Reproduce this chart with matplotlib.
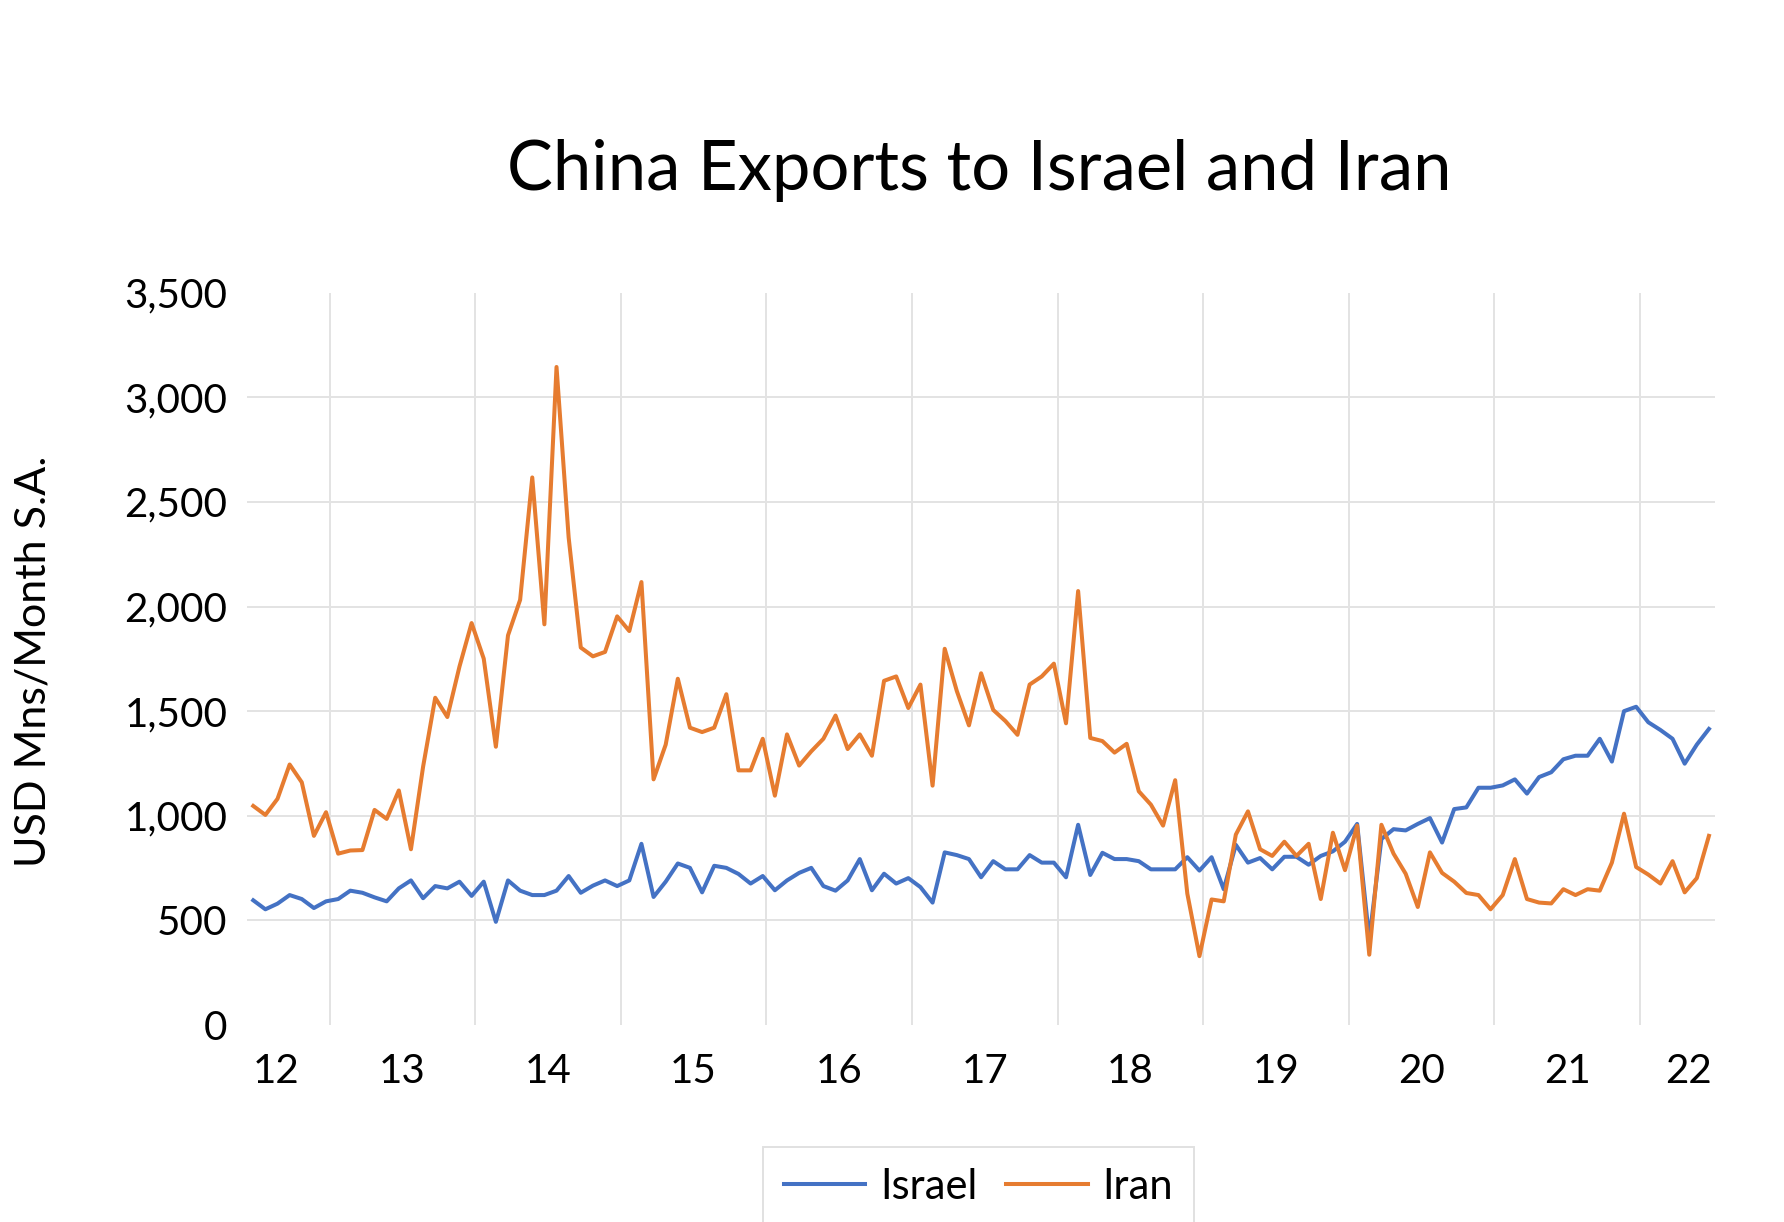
import matplotlib
matplotlib.use("Agg")
import matplotlib.pyplot as plt
import numpy as np
from matplotlib.lines import Line2D

FONT = ["Lato", "DejaVu Sans"]
plt.rcParams["font.family"] = FONT

# ---- data (monthly, Jul 2012 .. Jul 2022), USD mns / month s.a. ----
israel = [596, 553, 580, 621, 602, 559, 591, 602, 642, 632, 610, 591,
          653, 691, 606, 664, 653, 685, 617, 685, 493, 691, 642, 621,
          621, 642, 712, 632, 666, 691, 664, 691, 866, 612, 685, 772,
          751, 634, 761, 751, 722, 676, 712, 644, 691, 727, 751, 664,
          642, 691, 793, 644, 723, 676, 702, 659, 585, 825, 812, 793,
          706, 783, 744, 744, 812, 776, 776, 706, 957, 717, 823, 793,
          793, 783, 744, 744, 744, 802, 738, 802, 649, 861, 776, 798,
          744, 804, 804, 766, 808, 830, 876, 961, 410, 889, 936, 930,
          961, 989, 872, 1032, 1040, 1134, 1134, 1145, 1174, 1106, 1185, 1208,
          1270, 1287, 1287, 1368, 1259, 1500, 1521, 1447, 1410, 1368, 1249, 1340,
          1415]
iran = [1047, 1004, 1081, 1245, 1160, 904, 1017, 819, 834, 836, 1028, 985,
        1121, 840, 1234, 1564, 1472, 1713, 1921, 1751, 1330, 1862, 2032, 2617,
        1915, 3145, 2330, 1804, 1762, 1783, 1953, 1883, 2117, 1174, 1340, 1655,
        1421, 1400, 1421, 1581, 1217, 1217, 1368, 1096, 1389, 1240, 1308, 1368,
        1479, 1319, 1389, 1287, 1645, 1666, 1515, 1627, 1144, 1798, 1596, 1432,
        1681, 1506, 1453, 1387, 1627, 1666, 1727, 1442, 2074, 1372, 1357, 1302,
        1344, 1117, 1053, 953, 1170, 628, 329, 600, 591, 910, 1021, 840,
        808, 876, 808, 866, 602, 919, 740, 953, 336, 957, 819, 723,
        564, 825, 727, 685, 631, 621, 553, 621, 793, 602, 585, 581,
        649, 621, 649, 642, 776, 1010, 755, 719, 676, 783, 634, 702,
        904]
year_labels = ["12", "13", "14", "15", "16", "17", "18", "19", "20", "21", "22"]
y_ticks = [0, 500, 1000, 1500, 2000, 2500, 3000, 3500]

# ---- layout ----
W, H = 1784, 1222
fig = plt.figure(figsize=(W / 100, H / 100), dpi=100)
renderer = fig.canvas.get_renderer()


def fit(text, target_px, **kw):
    t = fig.text(0, 0, text, fontsize=20, **kw)
    w = t.get_window_extent(renderer).width
    t.remove()
    return 20 * target_px / w


left, right, top, bottom = 246.7, 1715, 292.7, 1025
ax = fig.add_axes([left / W, 1 - bottom / H, (right - left) / W, (bottom - top) / H])

BLUE = "#4472C4"
ORANGE = "#E67C30"
GRID = "#E3E3E3"

x = np.arange(len(israel))
ax.plot(x, israel, color=BLUE, lw=2.9, label="Israel")
ax.plot(x, iran, color=ORANGE, lw=2.9, label="Iran")

ax.set_xlim(-0.54, 120.5)
ax.set_ylim(0, 3500)

# year boundaries (gridlines) and year labels
grid_offset = 6.3
year_bounds = [grid_offset + 12 * k for k in range(10)]
label_pos = [1.85] + [grid_offset + 6 + 12 * k for k in range(9)] + [118.3]

tick_fs = fit("3,000", 102.7)

ax.set_xticks(year_bounds)
ax.set_xticklabels([])
ax.set_xticks(label_pos, minor=True)
ax.set_xticklabels(year_labels, minor=True, fontsize=tick_fs)
ax.tick_params(axis="x", which="both", length=0)
ax.tick_params(axis="x", which="minor", pad=20)
ax.set_yticks(y_ticks)
ax.set_yticklabels([f"{v:,}" for v in y_ticks], fontsize=tick_fs)
ax.tick_params(axis="y", length=0, pad=14)

ax.grid(axis="x", which="major", color=GRID, lw=1.4)
ax.grid(axis="y", color=GRID, lw=1.4)
ygl = ax.get_ygridlines()
ygl[0].set_visible(False)
ygl[-1].set_visible(False)
ax.set_axisbelow(True)
for s in ax.spines.values():
    s.set_visible(False)

# title
title_fs = fit("China Exports to Israel and Iran", 947)
fig.text(979 / W, 1 - 190 / H, "China Exports to Israel and Iran",
         fontsize=title_fs, ha="center", va="baseline", color="black")

# y-axis label
ylab_fs = fit("USD Mns/Month S.A.", 412)
fig.text(34 / W, 1 - 661 / H, "USD Mns/Month S.A.", fontsize=ylab_fs,
         rotation=90, ha="center", va="center")

# legend
leg_fs = fit("Israel", 93) * 1.05
handles = [Line2D([], [], color=BLUE, lw=2.9), Line2D([], [], color=ORANGE, lw=2.9)]
leg = fig.legend(handles, ["Israel", "Iran"], loc="upper center",
                 bbox_to_anchor=(978.5 / W, 1 - 1147 / H), ncol=2,
                 fontsize=leg_fs, frameon=True, fancybox=False,
                 edgecolor="#D9D9D9", handlelength=1.95, handletextpad=0.36,
                 columnspacing=0.7, borderpad=0.5, borderaxespad=0)
leg.get_frame().set_linewidth(1.4)

fig.savefig("out.png", dpi=100, facecolor="white")
